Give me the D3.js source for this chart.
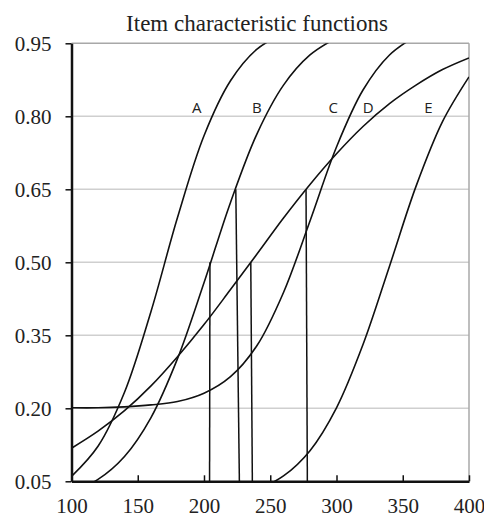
<!DOCTYPE html>
<html><head><meta charset="utf-8">
<script src="https://cdn.jsdelivr.net/npm/d3@7"></script>
<style>body{margin:0;background:#fff}svg{display:block}</style>
</head><body>
<svg id="chart" width="484" height="519"></svg>
<script>
// ---- data ----
const xGrid  = [100,120,140,160,180,200,220,240,260,280,300,320,340,360,380,400];
const curveA = [0.060,0.122,0.233,0.399,0.592,0.760,0.873,0.938,0.970,null,null,null,null,null,null,null];
const curveB = [0.029,0.054,0.101,0.181,0.302,0.458,0.623,0.764,0.864,0.926,0.961,null,null,null,null,null];
const curveC = [0.201,0.201,0.203,0.207,0.214,0.231,0.265,0.329,0.438,0.585,0.737,0.854,0.926,0.965,null,null];
const curveD = [0.118,0.153,0.195,0.246,0.306,0.372,0.444,0.517,0.591,0.660,0.723,0.779,0.826,0.864,0.896,0.920];
const curveE = [null,null,null,null,null,null,null,0.032,0.061,0.113,0.201,0.331,0.492,0.656,0.789,0.881];
const curveNames = ["A","B","C","D","E"];
const labelX = [194.5,239.8,297.6,324.0,369.3];
const labelLevel = 0.80;

const refTopX    = [204.5,224.0,235.3,277.0];
const refBottomX = [204.2,226.7,236.5,278.0];
const refLevel   = [0.50,0.65,0.50,0.65];

const xMajorTicks = [100,150,200,250,300,350,400];
const xMinorTicks = [125,175,225,275,325,375];
const yMajorTicks = [0.05,0.20,0.35,0.50,0.65,0.80,0.95];
const yMinorTicks = [0.10,0.15,0.25,0.30,0.40,0.45,0.55,0.60,0.70,0.75,0.85,0.90];
const gridLevels  = [0.20,0.35,0.50,0.65,0.80];
const titleText = "Item characteristic functions";

// ---- drawing ----
const svg = d3.select("#chart");
const x = d3.scaleLinear().domain([100,400]).range([71.5,469]);
const y = d3.scaleLinear().domain([0.05,0.95]).range([481.3,43.3]);

svg.append("defs").append("clipPath").attr("id","plotclip")
  .append("rect").attr("x",x(100)).attr("y",y(0.95)).attr("width",x(400)-x(100)).attr("height",y(0.05)-y(0.95));

// gridlines
svg.append("g").selectAll("line").data(gridLevels).join("line")
  .attr("x1",x(100)).attr("x2",x(400)).attr("y1",d=>y(d)).attr("y2",d=>y(d))
  .attr("stroke","#cfcfcf").attr("stroke-width",1.5);
// top and right border
svg.append("line").attr("x1",x(100)).attr("x2",x(400)).attr("y1",y(0.95)).attr("y2",y(0.95))
  .attr("stroke","#a8a8a8").attr("stroke-width",1.5);
svg.append("line").attr("x1",x(400)).attr("x2",x(400)).attr("y1",y(0.95)).attr("y2",y(0.05))
  .attr("stroke","#a8a8a8").attr("stroke-width",1.5);

// curves
const series = [curveA,curveB,curveC,curveD,curveE];
const line = d3.line()
  .defined(d=>d[1]!==null)
  .x(d=>x(d[0])).y(d=>y(d[1]))
  .curve(d3.curveCatmullRom.alpha(0.5));
svg.append("g").attr("clip-path","url(#plotclip)")
  .selectAll("path").data(series).join("path")
  .attr("d",s=>line(xGrid.map((xv,i)=>[xv,s[i]])))
  .attr("fill","none").attr("stroke","#111").attr("stroke-width",1.6);

// reference drop lines
svg.append("g").selectAll("line").data(refLevel).join("line")
  .attr("x1",(d,i)=>x(refTopX[i])).attr("y1",d=>y(d))
  .attr("x2",(d,i)=>x(refBottomX[i])).attr("y2",y(0.05))
  .attr("stroke","#111").attr("stroke-width",1.5);

// curve labels
svg.append("g").selectAll("text").data(curveNames).join("text")
  .attr("x",(d,i)=>x(labelX[i])).attr("y",y(labelLevel)-3)
  .attr("text-anchor","middle")
  .attr("font-family","'Open Sans', 'Liberation Sans', sans-serif")
  .attr("font-size",15).attr("fill","#222")
  .text(d=>d);

// axes
const fmt = d3.format(".2f");
const gx = svg.append("g").attr("transform",`translate(0,${y(0.05)})`);
gx.call(d3.axisBottom(x).tickValues(xMinorTicks).tickSizeInner(-6).tickSizeOuter(0).tickFormat(""));
gx.call(d3.axisBottom(x).tickValues(xMajorTicks).tickSizeInner(-6).tickSizeOuter(0).tickPadding(17).tickFormat(d3.format("d")));
const gy = svg.append("g").attr("transform",`translate(${x(100)},0)`);
gy.call(d3.axisLeft(y).tickValues(yMinorTicks).tickSizeInner(6).tickSizeOuter(0).tickFormat(""));
gy.call(d3.axisLeft(y).tickValues(yMajorTicks).tickSizeInner(6).tickSizeOuter(0).tickPadding(14).tickFormat(fmt));

svg.selectAll(".domain").attr("stroke","#111").attr("stroke-width",2.5);
svg.selectAll(".tick line").attr("stroke","#111").attr("stroke-width",1.5);
svg.selectAll(".tick text").attr("font-family","'Liberation Serif', 'Times New Roman', serif")
  .attr("font-size",21).attr("fill","#222");

// title
svg.append("text").attr("x",257).attr("y",31).attr("text-anchor","middle")
  .attr("font-family","'Liberation Serif', 'Times New Roman', serif")
  .attr("font-size",23).attr("fill","#222").text(titleText);
</script>
</body></html>
